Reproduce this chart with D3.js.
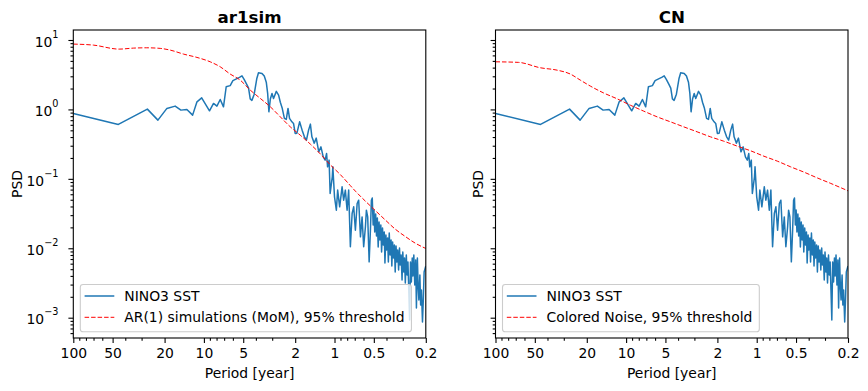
<!DOCTYPE html>
<html><head><meta charset="utf-8">
<script src="https://cdn.jsdelivr.net/npm/d3@7"></script>
<style>body{margin:0;background:#fff} svg{display:block} text{font-family:"DejaVu Sans",sans-serif;fill:#000}</style>
</head><body><svg id="c" width="868" height="391"></svg>
<script>
// NINO3 SST spectrum (period in years, PSD)
const periods = [100,45.2,27.1,22.5,19.2,16.6,15.0,13.5,12.2,11.3,
10.4,9.06,8.44,7.95,7.50,7.08,6.75,6.29,6.00,5.59,
5.34,5.11,4.91,4.70,4.55,4.42,4.29,4.12,3.93,3.82,
3.59,3.45,3.33,3.25,3.18,3.10,3.01,2.93,2.79,2.68,
2.60,2.52,2.42,2.34,2.27,2.21,2.12,2.06,2.00,1.94,
1.85,1.77,1.70,1.64,1.58,1.53,1.49,1.43,1.38,1.32,
1.27,1.22,1.18,1.15,1.13,1.10,1.08,1.04,1.03,1.00,
0.968,0.946,0.913,0.875,0.851,0.826,0.801,0.779,0.756,0.733,
0.713,0.692,0.671,0.653,0.633,0.615,0.598,0.580,0.570,0.557,
0.543,0.531,0.522,
0.514,0.506,0.499,0.492,0.484,0.477,0.470,0.463,0.456,0.449,
0.442,0.436,0.429,0.423,0.416,0.411,0.404,0.399,0.392,0.387,
0.381,0.375,0.369,0.364,0.359,0.354,0.348,0.343,0.338,0.333,
0.328,0.323,0.318,0.314,0.309,0.304,0.300,0.295,0.291,0.287,
0.282,0.278,0.274,0.270,0.266,0.262,0.258,0.254,0.251,0.247,
0.243,0.239,0.236,0.232,0.229,0.226,0.222,0.219,0.216,0.212,
0.209,0.206,0.200];
const psd = [0.876,0.608,1.01,0.701,1.034,1.116,0.977,1.0,0.828,1.287,
1.47,0.955,1.22,1.116,1.39,1.09,2.12,2.20,2.60,2.78,
2.89,3.04,2.69,2.30,2.03,1.42,1.35,1.66,2.82,3.37,
3.30,3.02,2.47,1.70,0.924,1.41,1.70,1.44,1.82,1.61,
1.27,1.06,0.742,0.718,1.034,0.742,0.663,0.628,0.451,0.455,
0.663,0.503,0.403,0.361,0.503,0.614,0.403,0.327,0.386,0.245,
0.289,0.207,0.186,0.232,0.149,0.186,0.0616,0.107,0.149,0.055,
0.0354,0.0688,0.0395,0.0767,0.0493,0.0688,0.0354,0.0688,0.0105,0.0317,
0.0395,0.0182,0.0442,0.0493,0.0146,0.0283,0.0105,0.0203,0.0354,0.0283,
0.00637,0.0182,0.0493,
0.0530,0.0216,0.0356,0.01715,0.0311,0.01502,0.0273,0.01042,0.0239,0.01315,
0.0216,0.00883,0.01957,0.01114,0.01715,0.00613,0.01552,0.00944,0.01405,0.00634,
0.01659,0.0080,0.01315,0.00555,0.01231,0.00724,0.01114,0.00455,0.01078,0.00634,
0.00944,0.00486,0.01009,0.00574,0.0080,0.00349,0.00883,0.00455,0.00724,0.00316,
0.0080,0.00412,0.00634,0.00250,0.000926,0.00634,0.00327,0.00724,0.00399,0.0080,
0.00296,0.00678,0.00138,0.00724,0.00296,0.0018,0.00412,0.00152,0.0025,0.000867,
0.0018,0.00455,0.00555];

// AR(1) simulations (MoM), 95% threshold
const ar1Periods = [100,70.2,44.6,34.7,27.4,21.6,18.1,14.3,11.3,8.95,7.50,6.29,5.27,4.42,3.70,3.10,2.60,2.18,1.83,1.53,1.28,1.08,0.902,0.756,0.692,0.580,0.486,0.407,0.342,0.286,0.240,0.200];
const ar1Psd = [8.73,8.44,7.39,7.64,7.72,7.57,7.15,6.26,5.61,4.85,4.11,3.23,2.64,1.90,1.44,1.09,0.782,0.561,0.426,0.316,0.227,0.160,0.115,0.0798,0.0665,0.0477,0.0348,0.0254,0.0188,0.0147,0.0118,0.00993];

// Colored Noise, 95% threshold
const cnPeriods = [100,66.6,45.4,33.8,26.7,22.4,18.8,14.9,11.7,9.27,7.33,5.79,4.58,3.62,2.86,2.26,1.79,1.41,1.11,0.881,0.696,0.550,0.435,0.343,0.271,0.200];
const cnPsd = [4.85,4.76,3.98,3.68,3.23,2.64,2.17,1.73,1.42,1.15,0.945,0.782,0.663,0.561,0.476,0.403,0.349,0.296,0.253,0.212,0.180,0.149,0.125,0.103,0.0859,0.0672];

const xTicks = [100,50,20,10,5,2,1,0.5,0.2];
const xTickLabels = ["100","50","20","10","5","2","1","0.5","0.2"];
const yTicks = [10,1,0.1,0.01,0.001];
const yTickExps = ["1","0","\u22121","\u22122","\u22123"];
const titles = ["ar1sim","CN"];
const sigLabels = ["AR(1) simulations (MoM), 95% threshold","Colored Noise, 95% threshold"];
const seriesLabel = "NINO3 SST";

const svg = d3.select("#c");
const T = 30, B = 338, W = 352.5;
const yMax = 13.93, yMin = 5.1e-4;
const xMin = 0.2, xMax = 100;

const minorX = [];
for (let k = -1; k <= 1; k++) for (let m = 2; m <= 9; m++) {
  const v = +(m * Math.pow(10, k)).toPrecision(3);
  if (v > xMin && v < xMax && !xTicks.includes(v)) minorX.push(v);
}
const minorY = [];
for (let k = -4; k <= 1; k++) for (let m = 2; m <= 9; m++) {
  const v = m * Math.pow(10, k);
  if (v > yMin && v < yMax) minorY.push(v);
}

const panels = [
  {left: 73.3, sigP: ar1Periods, sigV: ar1Psd, yLabels: true, psdX: 21.7},
  {left: 495.5, sigP: cnPeriods, sigV: cnPsd, yLabels: false, psdX: 483.3}
];

panels.forEach((p, i) => {
  const g = svg.append("g");
  const x = d3.scaleLog().domain([xMax, xMin]).range([p.left, p.left + W]);
  const y = d3.scaleLog().domain([yMax, yMin]).range([T, B]);
  const clipId = "clip" + i;
  svg.append("clipPath").attr("id", clipId).append("rect")
    .attr("x", p.left).attr("y", T).attr("width", W).attr("height", B - T);

  const line = d3.line().x(d => x(d[0])).y(d => y(d[1]));
  g.append("path").datum(d3.zip(periods, psd)).attr("d", line)
    .attr("fill", "none").attr("stroke", "#1f77b4").attr("stroke-width", 1.5)
    .attr("stroke-linejoin", "round").attr("clip-path", `url(#${clipId})`);
  g.append("path").datum(d3.zip(p.sigP, p.sigV)).attr("d", d3.line().curve(d3.curveMonotoneX).x(d => x(d[0])).y(d => y(d[1])))
    .attr("fill", "none").attr("stroke", "#ff0000").attr("stroke-width", 1)
    .attr("stroke-dasharray", "4.5,2").attr("clip-path", `url(#${clipId})`);

  // axes
  const styleAxis = sel => {
    sel.select(".domain").remove();
    sel.selectAll(".tick line").attr("stroke", "#000").attr("stroke-width", 1.1);
    sel.selectAll(".tick text").style("font-family", '"DejaVu Sans",sans-serif').style("font-size", "13.9px").attr("fill", "#000");
  };
  g.append("g").attr("transform", `translate(0,${B})`)
    .call(d3.axisBottom(x).tickValues(xTicks).tickFormat((d, j) => xTickLabels[j]).tickSize(4.9).tickPadding(5.5))
    .call(styleAxis);
  g.append("g").attr("transform", `translate(0,${B})`)
    .call(d3.axisBottom(x).tickValues(minorX).tickFormat("").tickSize(2.8))
    .call(styleAxis);
  g.append("g").attr("transform", `translate(${p.left},0)`)
    .call(d3.axisLeft(y).tickValues(yTicks).tickFormat("").tickSize(4.9))
    .call(styleAxis);
  g.append("g").attr("transform", `translate(${p.left},0)`)
    .call(d3.axisLeft(y).tickValues(minorY).tickFormat("").tickSize(2.8))
    .call(styleAxis);

  if (p.yLabels) {
    yTicks.forEach((v, j) => {
      const t = g.append("text").attr("x", p.left - 14.8).attr("y", y(v) + 6.7)
        .attr("text-anchor", "end").style("font-size", "13.9px");
      t.append("tspan").text("10");
      t.append("tspan").attr("dy", -9).style("font-size", "9.7px").text(yTickExps[j]);
    });
  }

  // frame
  g.append("rect").attr("x", p.left).attr("y", T).attr("width", W).attr("height", B - T)
    .attr("fill", "none").attr("stroke", "#000").attr("stroke-width", 1.1);

  // labels
  g.append("text").attr("x", p.left + W / 2).attr("y", 23).attr("text-anchor", "middle")
    .style("font-size", "16.7px").style("font-weight", "bold").text(titles[i]);
  g.append("text").attr("x", p.left + W / 2).attr("y", 378.4).attr("text-anchor", "middle")
    .style("font-size", "13.9px").text("Period [year]");
  g.append("text").attr("transform", `translate(${p.psdX},${(T + B) / 2}) rotate(-90)`)
    .attr("text-anchor", "middle").style("font-size", "13.9px").text("PSD");

  // legend
  const lx = p.left + 7, ly = 284.5, lh = 47.2;
  const lg = g.append("g");
  const box = lg.append("rect").attr("x", lx).attr("y", ly).attr("height", lh).attr("rx", 2.8)
    .attr("fill", "#fff").attr("fill-opacity", 0.8).attr("stroke", "#cccccc").attr("stroke-width", 1.1);
  const rows = [
    {label: seriesLabel, color: "#1f77b4", w: 1.5, dash: null, yy: ly + 11.5},
    {label: sigLabels[i], color: "#ff0000", w: 1, dash: "4.5,2", yy: ly + 32.8}
  ];
  let maxW = 0;
  rows.forEach(r => {
    const ln = lg.append("line").attr("x1", lx + 4.3).attr("x2", lx + 34).attr("y1", r.yy).attr("y2", r.yy)
      .attr("stroke", r.color).attr("stroke-width", r.w);
    if (r.dash) ln.attr("stroke-dasharray", r.dash);
    const t = lg.append("text").attr("x", lx + 44).attr("y", r.yy + 5).style("font-size", "13.9px").text(r.label);
    maxW = Math.max(maxW, t.node().getComputedTextLength());
  });
  box.attr("width", 44 + maxW + 7);
});
</script></body></html>
